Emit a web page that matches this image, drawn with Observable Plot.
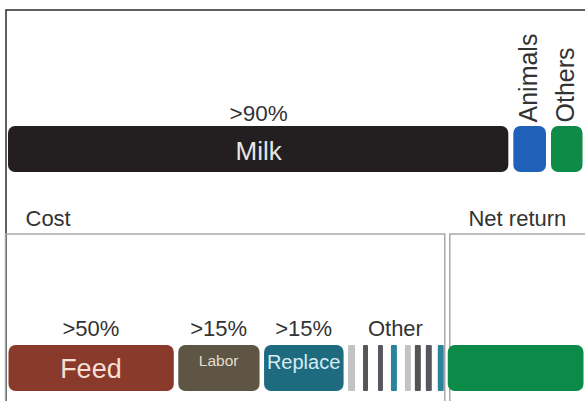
<!DOCTYPE html>
<html><head><meta charset="utf-8">
<script src="https://cdn.jsdelivr.net/npm/d3@7"></script>
<script src="https://cdn.jsdelivr.net/npm/@observablehq/plot@0.6"></script>
<style>body{margin:0;background:#fff;}</style>
</head><body><div id="chart"></div>
<script>
// Revenue side (shares of total)
const revenueItems = ["Milk", "Animals", "Others"];
const revenueShares = [87.2, 6.5, 6.3];
const revenueLabels = [">90%", "", ""];
// Cost side + net return
const costItems = ["Feed", "Labor", "Replace", "Other", "Net return"];
const costShares = [29.3, 14.8, 14.5, 17.2, 24.2];
const costLabels = [">50%", ">15%", ">15%", "Other", ""];
const headers = ["Cost", "Net return"];
// "Other" costs drawn as thin stripes: gap before each stripe and stripe width (parts of 100 of "Other")
const otherGaps = [3, 8, 10, 8, 8, 4, 5, 6];
const otherWidths = [7, 5, 5, 6, 6, 6, 6, 6];
const otherKinds = ["other-a", "other-b", "other-c", "other-d", "other-a", "other-b", "other-c", "other-d"];

const colorDomain = ["Milk", "Animals", "Others", "Feed", "Labor", "Replace", "Net return", "other-a", "other-b", "other-c", "other-d"];
const colorRange = ["#231f20", "#2160b9", "#0e8b47", "#8a3a2b", "#5f5545", "#1e6b80", "#0c8a48", "#c3c3c3", "#565656", "#5a5660", "#2a859c"];

function stackRow(items, shares, labels, row) {
  const ends = d3.cumsum(shares);
  return items.map((name, i) => ({name, row, label: labels[i], x1: ends[i] - shares[i], x2: ends[i]}));
}
const revenue = stackRow(revenueItems, revenueShares, revenueLabels, "revenue");
const cost = stackRow(costItems, costShares, costLabels, "cost");
const otherSeg = cost.find(d => d.name === "Other");
const unit = (otherSeg.x2 - otherSeg.x1) / 100;
let acc = 0;
const stripes = otherWidths.map((w, i) => {
  acc += otherGaps[i];
  const s = {name: otherKinds[i], row: "cost", x1: otherSeg.x1 + acc * unit, x2: otherSeg.x1 + (acc + w) * unit};
  acc += w;
  return s;
});
const mainCost = cost.filter(d => d.name !== "Other");
const costEnd = otherSeg.x2;
const boxes = [{name: "Cost", x1: 0, x2: costEnd}, {name: "Net return", x1: costEnd, x2: 100}];
const headerData = headers.map(h => h === "Cost" ? {text: h, x: 0} : {text: h, x: (costEnd + 100) / 2});
const mid = d => (d.x1 + d.x2) / 2;
const font = "'Liberation Sans', Arial, Helvetica, sans-serif";
const ink = "#333";

const chart = Plot.plot({
  width: 585, height: 401,
  marginTop: 0, marginBottom: 0, marginLeft: 5.5, marginRight: 0,
  style: {fontFamily: font, background: "#fff", overflow: "visible"},
  x: {domain: [0, 100], axis: null},
  y: {type: "band", domain: ["revenue", "cost"], range: [126, 391.5], paddingInner: 0.79, paddingOuter: 0, axis: null},
  color: {domain: colorDomain, range: colorRange},
  marks: [
    Plot.frame({stroke: "#2a2a2a", strokeWidth: 1.5, insetTop: 9.5, insetRight: -10, insetBottom: -10}),
    Plot.rect(boxes.filter(b => b.name === "Cost"), {x1: "x1", x2: "x2", fill: "none", stroke: "#a8a8a8", strokeWidth: 1.5, insetTop: 234, insetBottom: -10}),
    Plot.rect(boxes.filter(b => b.name === "Net return"), {x1: "x1", x2: "x2", fill: "none", stroke: "#a8a8a8", strokeWidth: 1.5, insetTop: 234, insetBottom: -10, insetLeft: 5, insetRight: -10}),
    Plot.barX(revenue, {x1: "x1", x2: "x2", y: "row", fill: "name", rx: 7, insetLeft: 2.5, insetRight: 2.5}),
    Plot.barX(mainCost, {x1: "x1", x2: "x2", y: "row", fill: "name", rx: 7, insetLeft: 3, insetRight: 1.5}),
    Plot.barX(stripes, {x1: "x1", x2: "x2", y: "row", fill: "name", rx: 1}),
    // percentage labels
    Plot.text(revenue.filter(d => d.label), {x: mid, y: "row", text: "label", dy: -29, lineAnchor: "bottom", fontSize: 22.5, fill: ink}),
    Plot.text(cost.filter(d => d.label), {x: mid, y: "row", text: "label", dy: -33, lineAnchor: "bottom", fontSize: 22, fill: ink}),
    // names inside bars
    Plot.text(revenue.filter(d => d.name === "Milk"), {x: mid, y: "row", text: "name", dy: 2, fontSize: 26, fill: "#e6e6e6"}),
    Plot.text(revenue.filter(d => d.name !== "Milk"), {x: mid, y: "row", text: "name", rotate: -90, textAnchor: "start", dy: -27, dx: -1, fontSize: 25, fill: ink}),
    Plot.text(cost.filter(d => d.name === "Feed"), {x: mid, y: "row", text: "name", dy: 1, fontSize: 27, fill: "#f6dfd4"}),
    Plot.text(cost.filter(d => d.name === "Labor"), {x: mid, y: "row", text: "name", dy: -7, fontSize: 15.5, fill: "#e2ddcf"}),
    Plot.text(cost.filter(d => d.name === "Replace"), {x: mid, y: "row", text: "name", dy: -6, fontSize: 20, fill: "#d6ebf3"}),
    // section headers
    Plot.text(headerData.filter(d => d.text === "Cost"), {x: "x", text: "text", textAnchor: "start", frameAnchor: "top", lineAnchor: "bottom", dy: 225, dx: 19.5, fontSize: 22, fill: ink}),
    Plot.text(headerData.filter(d => d.text !== "Cost"), {x: "x", text: "text", textAnchor: "middle", frameAnchor: "top", lineAnchor: "bottom", dy: 225, dx: 2, fontSize: 22, fill: ink})
  ]
});
document.getElementById("chart").appendChild(chart);
</script>
</body></html>
